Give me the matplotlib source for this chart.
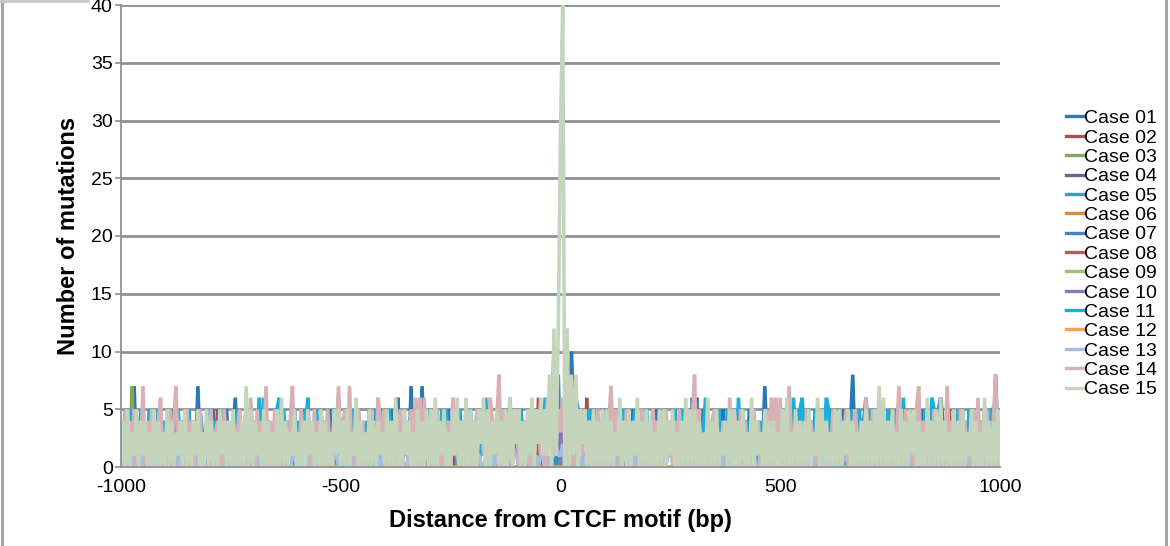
import numpy as np
import matplotlib.pyplot as plt
from matplotlib.lines import Line2D

plt.rcParams['font.family'] = ['Liberation Sans', 'DejaVu Sans']
plt.rcParams['axes.unicode_minus'] = False

# one character per 5 bp bin, values in base-41 ("E" = 40)
LEVELS = "0123456789abcdefghijklmnopqrstuvwxyzABCDE"

bp = np.arange(-1000, 1001, 5)

case01 = ("3150427031" "4025130514" "2041530241" "3024171304" "2051304152"
          "0361402513" "4025130421" "3052140315" "2041530241" "3140251304"
          "2051304152" "0314025130" "4025136041" "3071430721" "4025130415"
          "2041530241" "3150425130" "4025130614" "2051304152" "4352463a64"
          "54635a4653" "3041530241" "3150425130" "4025130415" "2041530241"
          "3150425130" "6460251304" "2041530241" "3150425130" "4027130415"
          "2041530241" "3150425130" "4025130415" "2048130246" "3150425130"
          "4025130415" "2041530241" "3156425130" "4025130415" "2041530282"
          "3")

case11 = ("2413503425" "1305241530" "4251305241" "3502415310" "5241305241"
          "3052413502" "4136162413" "3561524130" "2415361305" "1524130524"
          "3051425130" "2415305251" "4052413502" "3415205241" "5241305152"
          "4130524135" "2405136241" "3052415304" "4152430524" "3426545354"
          "5463547625" "2415305241" "3502415305" "2413502415" "3052413502"
          "4153052413" "5024136241" "3052415304" "1605241530" "2413502415"
          "3052416305" "6241305241" "3650241530" "2415305241" "3502415305"
          "2415306241" "3052415306" "5241305241" "3502415305" "2415305541"
          "2")

case13 = ("1010110101" "0110101101" "1011010110" "0101101011" "1101011010"
          "1010011011" "0110101101" "1011001011" "0101101101" "1101010110"
          "1011010101" "0110110101" "1010110110" "0101011011" "1101101012"
          "2121010110" "1011001101" "0102222221" "1010110101" "0110101121"
          "1201011010" "1011010110" "0110101101" "1011010101" "0101101011"
          "1101011010" "1010110101" "0110101101" "1011010110" "0101101011"
          "1101011010" "1010110110" "0110101101" "1011001011" "0101101101"
          "1101010110" "1011010101" "0110110101" "1010110110" "0101011011"
          "1")

case14 = ("3051425031" "7041503461" "3052471403" "5140315024" "1503420514"
          "0413520416" "3051427041" "5031420471" "3052413051" "4031520437"
          "1450713052" "4031520641" "5031420513" "4051636061" "3041520314"
          "0641420531" "4052413064" "1480521403" "5031420513" "4150624215"
          "3624150425" "1504230514" "3047152041" "5031420513" "4052413051"
          "3041520415" "4805120314" "5031420615" "3052413051" "4031526461"
          "6051730414" "3052413051" "4031520413" "5041530416" "3051420314"
          "0413720514" "3057142041" "5031427041" "3052413051" "6041520481"
          "3")

case15 = ("0405031504" "1403050403" "0504031405" "0304150305" "0403051404"
          "0503040705" "0413050403" "0506040315" "0304051403" "0504030515"
          "0405031604" "0305040413" "0504060305" "1403050405" "0506041503"
          "0516040605" "0405260504" "1504050605" "2504051605" "2615180c1c"
          "tE0c081805" "2504050405" "0504031604" "0504160405" "0403050504"
          "1503040605" "0504030604" "0503140505" "0405030604" "1305040403"
          "0506030504" "0405031605" "0403050504" "1504030405" "0405070604"
          "0503050405" "1504030604" "0506040305" "0405031504" "0306040405"
          "0")

# cases with only a few non-zero bins: position (bp) and count
case02_bp, case02_n = [-780, -235, -50, 60, 750], [5, 4, 6, 6, 5]
case03_bp, case03_n = [-975, -560, 130], [7, 4, 3]
case04_bp, case04_n = [-420, 15, 610], [3, 5, 3]
case05_bp, case05_n = [-880, -10, 480], [4, 6, 4]
case06_bp, case06_n = [-700, 25], [1, 1]
case07_bp, case07_n = [-640, -5, 540], [5, 8, 5]
case08_bp, case08_n = [-55, 310, 885], [5, 4, 5]
case09_bp, case09_n = [-150, 10, 700], [3, 6, 4]
case10_bp, case10_n = [-300, 5, 420], [3, 4, 3]
case12_bp, case12_n = [-520, 995], [1, 1]

labels = ['Case %02d' % k for k in range(1, 16)]
colors = ['#2d78b2', '#a9504c', '#8aa653', '#6f5f96', '#3c9bbf',
          '#e08a3c', '#3a87c9', '#b35c59', '#9cc26a', '#8a79b3',
          '#16b0dc', '#f5a057', '#a3bedf', '#d9b0b3', '#c4d5bc']


def decode(s):
    vals = np.array([LEVELS.index(c) for c in s])
    assert len(vals) == len(bp)
    return vals


def sparse(pos, counts):
    y = np.zeros(len(bp), dtype=int)
    for p, n in zip(pos, counts):
        y[np.searchsorted(bp, p)] = n
    return y


series = [
    decode(case01),
    sparse(case02_bp, case02_n),
    sparse(case03_bp, case03_n),
    sparse(case04_bp, case04_n),
    sparse(case05_bp, case05_n),
    sparse(case06_bp, case06_n),
    sparse(case07_bp, case07_n),
    sparse(case08_bp, case08_n),
    sparse(case09_bp, case09_n),
    sparse(case10_bp, case10_n),
    decode(case11),
    sparse(case12_bp, case12_n),
    decode(case13),
    decode(case14),
    decode(case15),
]

grey = '#8c9198'

fig = plt.figure(figsize=(11.7, 5.46), dpi=100)
ax = fig.add_axes([121 / 1170, 1 - 467 / 546, 879 / 1170, 462 / 546])

for k, (y, c, lab) in enumerate(zip(series, colors, labels)):
    ax.plot(bp, y, color=c, lw=2.6, label=lab, zorder=2 + k * 0.01,
            solid_joinstyle='bevel')

ax.set_xlim(-1000, 1000)
ax.set_ylim(0, 40)
ax.set_xticks([-1000, -500, 0, 500, 1000])
ax.set_yticks(range(0, 41, 5))
ax.yaxis.grid(True, color=grey, lw=2.0, zorder=1)
ax.set_axisbelow(True)
for side in ['top', 'right']:
    ax.spines[side].set_visible(False)
for side in ['left', 'bottom']:
    ax.spines[side].set_color(grey)
    ax.spines[side].set_linewidth(1.3)
    ax.spines[side].set_zorder(5)
ax.tick_params(axis='y', length=4, width=1.2, color=grey, labelsize=14, pad=2)
ax.tick_params(axis='x', length=0, labelsize=14, pad=9)

ax.set_xlabel('Distance from CTCF motif (bp)', fontsize=17, fontweight='bold',
              labelpad=9)
ax.set_ylabel('Number of mutations', fontsize=17, fontweight='bold',
              labelpad=8)

handles = [Line2D([], [], color=c, lw=2.4) for c in colors]
fig.legend(handles, labels, loc='center left',
           bbox_to_anchor=(1066 / 1170, 1 - 254 / 546),
           frameon=False, fontsize=14, handlelength=0.9, handletextpad=0.05,
           labelspacing=0.09, borderpad=0, borderaxespad=0)

# frame edges around the panel
fig.add_artist(Line2D([2 / 1170, 2 / 1170], [0, 1], color='#9aa0a6', lw=2))
fig.add_artist(Line2D([1166 / 1170, 1166 / 1170], [0, 1], color='#9aa0a6', lw=2))
fig.add_artist(Line2D([0, 88 / 1170], [1 - 1 / 546, 1 - 1 / 546],
                      color='#c5c9cd', lw=2))

fig.savefig('out.png', dpi=100)
